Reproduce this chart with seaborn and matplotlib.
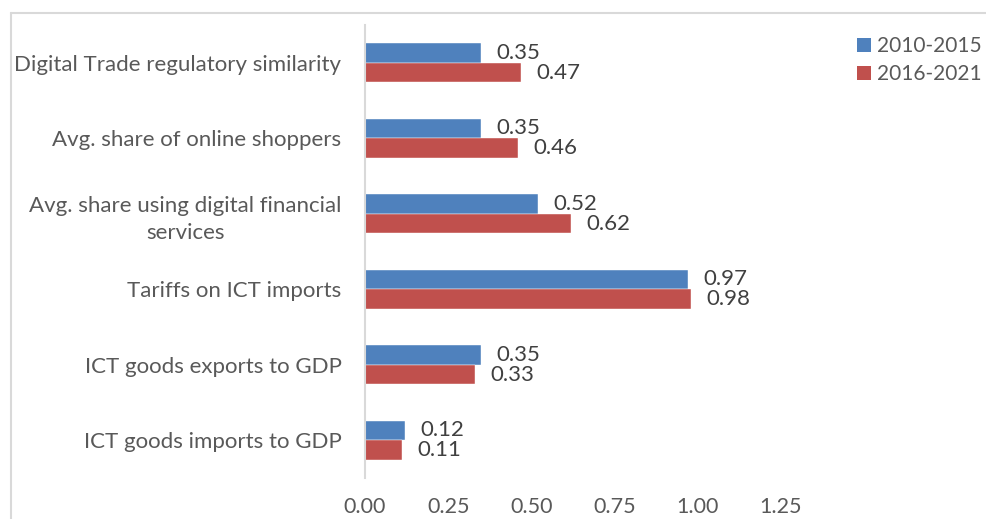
import matplotlib
matplotlib.use("Agg")
import matplotlib.pyplot as plt
import seaborn as sns
import pandas as pd
from matplotlib.patches import Patch
from matplotlib.lines import Line2D

categories = [
    "Digital Trade regulatory similarity",
    "Avg. share of online shoppers",
    "Avg. share using digital financial\nservices",
    "Tariffs on ICT imports",
    "ICT goods exports to GDP",
    "ICT goods imports to GDP",
]
series_names = ["2010-2015", "2016-2021"]
values_2010_2015 = [0.35, 0.35, 0.52, 0.97, 0.35, 0.12]
values_2016_2021 = [0.47, 0.46, 0.62, 0.98, 0.33, 0.11]
x_ticks = [0.00, 0.25, 0.50, 0.75, 1.00, 1.25]
colors = ["#4F81BD", "#C0504D"]

df = pd.DataFrame({
    "category": categories * 2,
    "value": values_2010_2015 + values_2016_2021,
    "period": [series_names[0]] * len(categories) + [series_names[1]] * len(categories),
})

sns.set_theme(style="white")
plt.rcParams["font.family"] = ["Lato", "DejaVu Sans"]

fig = plt.figure(figsize=(9.87, 5.19), dpi=100)
ax = fig.add_axes([365 / 987, 1 - 478 / 519, (781 - 365) / 987, (478 - 25) / 519])

sns.barplot(data=df, y="category", x="value", hue="period", order=categories,
            hue_order=series_names, palette=colors, orient="h", width=0.52,
            gap=0, ax=ax, legend=False, saturation=1, edgecolor="white", linewidth=0.3)

for cont in ax.containers:
    ax.bar_label(cont, labels=[f"{v:.2f}" for v in cont.datavalues], padding=11,
                 fontsize=16, color="#404040")

ax.set_xlim(0, 1.25)
ax.set_xticks(x_ticks)
ax.set_xticklabels([f"{t:.2f}" for t in x_ticks])
ax.set_xlabel("")
ax.set_ylabel("")
ax.tick_params(axis="x", length=0, pad=14, labelsize=15.5, labelcolor="#595959")
ax.tick_params(axis="y", length=0, pad=17, labelsize=16, labelcolor="#595959")
for lbl in ax.get_yticklabels():
    lbl.set_multialignment("center")
    lbl.set_linespacing(1.45)
for s in ["top", "right", "bottom"]:
    ax.spines[s].set_visible(False)
ax.spines["left"].set_color("#d9d9d9")
ax.spines["left"].set_linewidth(1.5)

handles = [Patch(facecolor=c, edgecolor="none") for c in colors]
fig.legend(handles, series_names, loc="upper left", bbox_to_anchor=(857 / 987, 1 - 36 / 519),
           frameon=False, fontsize=15, labelcolor="#595959", handlelength=0.65,
           handleheight=0.65, handletextpad=0.3, labelspacing=0.4, borderaxespad=0, borderpad=0)

# outer chart border (top and left edges visible)
fig.add_artist(Line2D([11 / 987, 1.0], [1 - 13 / 519, 1 - 13 / 519], transform=fig.transFigure,
                      color="#d9d9d9", linewidth=1.5))
fig.add_artist(Line2D([11 / 987, 11 / 987], [0, 1 - 13 / 519], transform=fig.transFigure,
                      color="#d9d9d9", linewidth=1.5))

fig.savefig("out.png", dpi=100)
